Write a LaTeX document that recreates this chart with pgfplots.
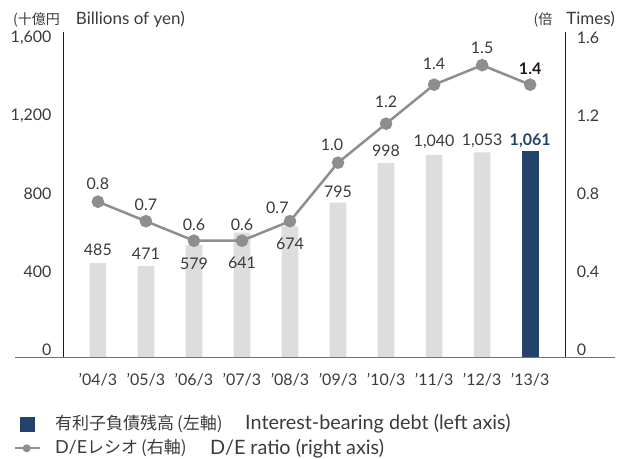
\documentclass[border=0pt]{standalone}
\usepackage{pgfplots}
\pgfplotsset{compat=1.18}
\usepackage{pgfplotstable}
\usepackage{fontspec}
\setmainfont{Lato}
\newfontfamily\jp{Noto Sans CJK JP}
\newcommand\jpf{\fontsize{14bp}{16bp}\jp}
\newcommand\jpl{\fontsize{17bp}{19bp}\jp}
\newcommand\lgf{\fontsize{19.8bp}{22bp}\selectfont}
\definecolor{bargray}{HTML}{DCDDDD}
\definecolor{navy}{HTML}{24436B}
\definecolor{linegray}{HTML}{8E8E8E}
\definecolor{txt}{HTML}{3E3A39}
\definecolor{axisc}{HTML}{231815}

\pgfplotstableread{
x y
0 485
1 471
2 579
3 641
4 674
5 795
6 998
7 1040
8 1053
}\debt
\pgfplotstableread{
x y
9 1061
}\debtlast
\pgfplotstableread{
x y lab
0 552 485
1 535 471
2 480 579
3 484 641
4 583 674
5 851 795
6 1062 998
7 1108 {1,040}
8 1113 {1,053}
}\debtlab
\pgfplotstableread{
x y
0 0.8
1 0.7
2 0.6
3 0.6
4 0.7
5 1.0
6 1.2
7 1.4
8 1.5
9 1.4
}\der
\pgfplotstableread{
x y lab
0 0.894 0.8
1 0.783 0.7
2 0.681 0.6
3 0.681 0.6
3.737 0.771 0.7
4.875 1.091 1.0
6 1.313 1.2
7 1.505 1.4
8 1.587 1.5
}\derlab

\begin{document}
\begin{tikzpicture}[x=1bp,y=1bp,font=\fontsize{16bp}{18bp}\selectfont, text=txt]
\useasboundingbox (0,0) rectangle (629,459);
\begin{axis}[
  at={(63.3bp,101.3bp)}, anchor=south west,
  scale only axis, width=502.4bp, height=325.65bp,
  xmin=-0.72, xmax=9.74, ymin=0, ymax=1670,
  clip=false,
  axis y line*=left, axis x line*=bottom,
  x axis line style={draw=none},
  y axis line style={-, draw=axisc, line width=0.9bp},
  major tick length=0pt,
  xtick={0,...,9},
  xticklabels={’04/3,’05/3,’06/3,’07/3,’08/3,’09/3,’10/3,’11/3,’12/3,’13/3},
  xticklabel style={anchor=center, yshift=-21.6bp, text=txt},
  ytick={0,400,800,1200,1600},
  yticklabels={0,400,800,{1,200},{1,600}},
  yticklabel style={anchor=east, inner sep=0pt, xshift=-11.6bp, yshift=8bp, text=txt},
]
\addplot[ybar, bar width=16.7bp, bar shift=0pt, fill=bargray, draw=none] table {\debt};
\addplot[ybar, bar width=16.7bp, bar shift=0pt, fill=navy, draw=none] table {\debtlast};
\addplot[draw=none, mark=none, nodes near coords, point meta=explicit symbolic,
  nodes near coords style={anchor=center, text=txt, inner sep=0pt}] table[meta=lab] {\debtlab};
\addplot[draw=none, mark=none, nodes near coords, point meta=explicit symbolic,
  nodes near coords style={anchor=center, text=navy, inner sep=0pt, font=\fontsize{16bp}{18bp}\selectfont\bfseries}] coordinates {(9,1113) [{1,061}]};
\end{axis}
\begin{axis}[
  at={(63.3bp,101.3bp)}, anchor=south west,
  scale only axis, width=502.4bp, height=325.65bp,
  xmin=-0.72, xmax=9.74, ymin=0, ymax=1.67,
  clip=false,
  axis y line*=right, hide x axis,
  y axis line style={-, draw=axisc, line width=0.9bp},
  major tick length=0pt,
  ytick={0,0.4,0.8,1.2,1.6},
  yticklabels={0,0.4,0.8,1.2,1.6},
  yticklabel style={anchor=west, inner sep=0pt, xshift=11bp, yshift=8bp, text=txt},
]
\addplot[color=linegray, line width=2.5bp, mark=*, mark size=5bp,
  mark options={fill=linegray, draw=none}] table {\der};
\addplot[draw=none, mark=none, nodes near coords, point meta=explicit symbolic,
  nodes near coords style={anchor=center, text=txt, inner sep=0pt}] table[meta=lab] {\derlab};
\addplot[draw=none, mark=none, nodes near coords, point meta=explicit symbolic,
  nodes near coords style={anchor=center, text=axisc, inner sep=0pt, font=\fontsize{16bp}{18bp}\selectfont\bfseries}] coordinates {(9,1.481) [1.4]};
\end{axis}
% baseline
\draw[color=linegray!80!black, line width=1.2bp] (15,101.3) -- (615,101.3);
% axis titles
\node[anchor=west, inner sep=0pt] at (13,439.7) {{\jpf (十億円}\hspace{16bp}{\fontsize{17bp}{19bp}\selectfont Billions of yen)}};
\node[anchor=east, inner sep=0pt] at (615,439.7) {{\jpf (倍}\hspace{14bp}{\fontsize{17bp}{19bp}\selectfont Times)}};
% legend
\fill[navy] (20,27.3) rectangle (35,42.3);
\node[anchor=west, inner sep=0pt] at (55,35) {\jpl 有利子負債残高\hspace{3bp}(左軸)};
\node[anchor=west, inner sep=0pt] at (245,35) {\lgf Interest-bearing debt (left axis)};
\draw[linegray, line width=2bp] (15,10.7) -- (40,10.7);
\fill[linegray] (26.7,10.7) circle (4bp);
\node[anchor=west, inner sep=0pt] at (55,10.7) {{\fontsize{18bp}{20bp}\selectfont D/E}{\jpl レシオ\hspace{3bp}(右軸)}};
\node[anchor=west, inner sep=0pt] at (210,10.7) {\lgf D/E ratio (right axis)};
\end{tikzpicture}
\end{document}
